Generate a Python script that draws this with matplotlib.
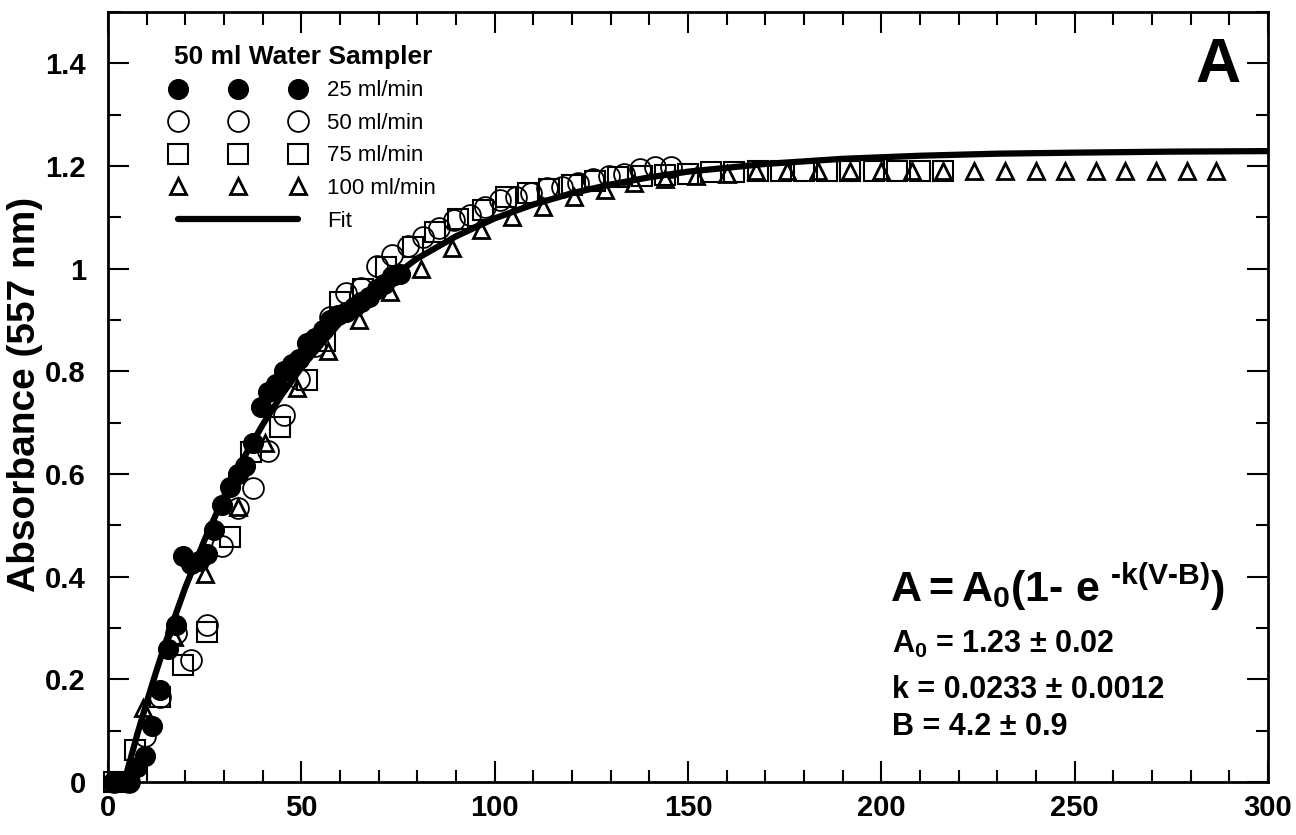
import matplotlib
matplotlib.use("Agg")
import matplotlib.pyplot as plt
from matplotlib.ticker import MultipleLocator

plt.rcParams["font.family"] = ["Liberation Sans", "DejaVu Sans"]
plt.rcParams["mathtext.fontset"] = "custom"
plt.rcParams["mathtext.rm"] = "Liberation Sans:bold"
plt.rcParams["mathtext.it"] = "Liberation Sans:bold"
plt.rcParams["mathtext.bf"] = "Liberation Sans:bold"

# 25 ml/min (filled circles)
vol_25 = [1.5, 3.5, 5.5, 7.5, 9.5, 11.5, 13.5, 15.5, 17.5, 19.5, 21.5, 23.5, 25.5,
          27.5, 29.5, 31.5, 33.5, 35.5, 37.5, 39.5, 41.5, 43.5, 45.5, 47.5, 49.5,
          51.5, 53.5, 55.5, 57.5, 59.5, 61.5, 63.5, 65.5, 67.5, 69.5, 71.5, 73.5, 75.5]
abs_25 = [0.0, 0.0, 0.0, 0.03, 0.05, 0.11, 0.18, 0.26, 0.305, 0.44, 0.425, 0.43, 0.445,
          0.49, 0.54, 0.575, 0.60, 0.615, 0.66, 0.73, 0.76, 0.775, 0.80, 0.815, 0.825,
          0.855, 0.865, 0.88, 0.90, 0.91, 0.915, 0.925, 0.935, 0.945, 0.96, 0.97, 0.985, 0.99]

# 50 ml/min (open circles)
vol_50 = [1.5, 5.5, 9.5, 13.5, 17.5, 21.5, 25.5, 29.5, 33.5, 37.5, 41.5, 45.5, 49.5,
          53.5, 57.5, 61.5, 65.5, 69.5, 73.5, 77.5, 81.5, 85.5, 89.5, 93.5, 97.5,
          101.5, 105.5, 109.5, 113.5, 117.5, 121.5, 125.5, 129.5, 133.5, 137.5, 141.5, 145.5]
abs_50 = [0.0, 0.0, 0.09, 0.165, 0.29, 0.237, 0.305, 0.46, 0.533, 0.572, 0.645, 0.714, 0.786,
          0.85, 0.905, 0.952, 0.962, 1.005, 1.026, 1.045, 1.062, 1.08, 1.095, 1.105, 1.12,
          1.133, 1.14, 1.147, 1.157, 1.16, 1.166, 1.175, 1.18, 1.185, 1.195, 1.198, 1.198]

# 75 ml/min (open squares)
vol_75 = [1.5, 7.0, 13.5, 19.5, 25.5, 31.5, 37.0, 44.5, 51.5, 56.0, 60.0, 66.0, 72.0,
          79.0, 84.5, 90.5, 97.0, 103.0, 108.5, 114.0, 120.0, 126.0, 132.0, 138.0, 144.0,
          150.0, 156.0, 162.0, 168.0, 174.0, 180.0, 186.0, 192.0, 198.0, 204.0, 210.0, 216.0]
abs_75 = [0.0, 0.062, 0.166, 0.228, 0.292, 0.477, 0.643, 0.691, 0.783, 0.86, 0.935, 0.96, 1.003,
          1.042, 1.071, 1.097, 1.115, 1.139, 1.148, 1.155, 1.163, 1.17, 1.178, 1.18, 1.183,
          1.185, 1.188, 1.188, 1.19, 1.19, 1.19, 1.19, 1.19, 1.19, 1.19, 1.19, 1.19]

# 100 ml/min (open triangles)
vol_100 = [1.5, 9.0, 17.0, 25.0, 33.5, 40.5, 49.0, 57.0, 65.0, 73.0, 81.0, 89.0, 96.5,
           104.5, 112.5, 120.5, 128.5, 136.0, 144.0, 152.0, 160.0, 167.5, 175.5, 183.5, 192.0,
           200.0, 208.0, 216.0, 224.0, 232.0, 240.0, 247.5, 255.5, 263.0, 271.0, 279.0, 286.5]
abs_100 = [0.0, 0.144, 0.282, 0.405, 0.535, 0.66, 0.767, 0.84, 0.90, 0.955, 1.0, 1.04, 1.075,
           1.10, 1.12, 1.14, 1.153, 1.166, 1.175, 1.18, 1.185, 1.19, 1.19, 1.19, 1.19,
           1.19, 1.19, 1.19, 1.19, 1.19, 1.19, 1.19, 1.19, 1.19, 1.19, 1.19, 1.19]

# fit curve
fit_vol = [4.2, 7.5, 10, 12.5, 15, 20, 25, 30, 35, 40, 45, 50, 60, 70, 80, 90, 100,
           110, 120, 130, 140, 150, 170, 190, 210, 230, 250, 275, 300]
fit_abs = [0.0, 0.091, 0.155, 0.216, 0.274, 0.379, 0.472, 0.556, 0.630, 0.696, 0.755, 0.807,
           0.895, 0.964, 1.020, 1.063, 1.098, 1.125, 1.147, 1.164, 1.178, 1.189, 1.204,
           1.214, 1.220, 1.224, 1.226, 1.228, 1.229]

x_ticks = [0, 50, 100, 150, 200, 250, 300]
x_tick_labels = ["0", "50", "100", "150", "200", "250", "300"]
y_ticks = [0, 0.2, 0.4, 0.6, 0.8, 1.0, 1.2, 1.4]
y_tick_labels = ["0", "0.2", "0.4", "0.6", "0.8", "1", "1.2", "1.4"]

tick_font = {"weight": "bold", "size": 21}

fig = plt.figure(figsize=(12.96, 8.35), dpi=100)
ax = fig.add_axes([108 / 1296, 53 / 835, 1160 / 1296, 770 / 835])

ax.plot(vol_25, abs_25, "o", ms=14, mfc="black", mec="black", mew=1.2,
        label="25 ml/min", clip_on=False, zorder=3)
ax.plot(vol_50, abs_50, "o", ms=15, mfc="none", mec="black", mew=1.3,
        label="50 ml/min", clip_on=False, zorder=3)
ax.plot(vol_75, abs_75, "s", ms=14, mfc="none", mec="black", mew=1.5,
        label="75 ml/min", clip_on=False, zorder=3)
ax.plot(vol_100, abs_100, "^", ms=12, mfc="none", mec="black", mew=2.0,
        label="100 ml/min", clip_on=False, zorder=3)
ax.plot(fit_vol, fit_abs, "-", color="black", lw=4.5, label="Fit", zorder=4,
        solid_capstyle="round")

ax.set_xlim(0, 300)
ax.set_ylim(0, 1.5)
ax.set_xticks(x_ticks)
ax.set_xticklabels(x_tick_labels, fontdict=tick_font)
ax.set_yticks(y_ticks)
ax.set_yticklabels(y_tick_labels, fontdict=tick_font)
ax.xaxis.set_minor_locator(MultipleLocator(10))
ax.yaxis.set_minor_locator(MultipleLocator(0.1))

ax.tick_params(which="both", direction="in", top=True, right=True, width=1.5)
ax.tick_params(which="major", length=15)
ax.tick_params(which="minor", length=9)
ax.tick_params(axis="y", which="major", pad=16)
ax.tick_params(axis="x", which="major", pad=9)
for side in ax.spines.values():
    side.set_linewidth(2)

# label anchored on its right edge, just left of the tick labels
ax.set_ylabel("Absorbance (557 nm)", fontsize=28, fontweight="bold")
ax.yaxis.set_label_coords(-0.056, 0.503)

leg = ax.legend(loc="upper left", bbox_to_anchor=(0.047, 0.969), borderaxespad=0,
                frameon=False, numpoints=3, handlelength=6.0, handletextpad=1.0,
                labelspacing=0.52, prop={"size": 16},
                title="50 ml Water Sampler",
                title_fontproperties={"size": 19, "weight": "bold"})

ax.text(0.976, 0.909, "A", transform=ax.transAxes, ha="right", va="baseline",
        fontsize=45, fontweight="bold")
ax.text(0.674, 0.234, r"$A = A_0(1\text{-}\ e^{\ \text{-}k(V\text{-}B)})$", transform=ax.transAxes,
        ha="left", va="baseline", fontsize=31)
ax.text(0.676, 0.1675, r"$A_0$ = 1.23 ± 0.02", transform=ax.transAxes,
        ha="left", va="baseline", fontsize=22, fontweight="bold")
ax.text(0.676, 0.109, "k = 0.0233 ± 0.0012", transform=ax.transAxes,
        ha="left", va="baseline", fontsize=22, fontweight="bold")
ax.text(0.676, 0.061, "B = 4.2 ± 0.9", transform=ax.transAxes,
        ha="left", va="baseline", fontsize=22, fontweight="bold")

fig.savefig("out.png", dpi=100)
